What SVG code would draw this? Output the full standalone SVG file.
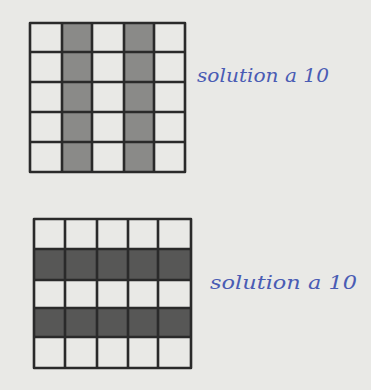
<svg xmlns="http://www.w3.org/2000/svg" width="371" height="390" viewBox="0 0 371 390">
<style>
.grid{fill:none;stroke:#2a2a2a;stroke-width:2.6;stroke-linejoin:round}
.label{font-family:"DejaVu Serif","Liberation Serif",serif;font-style:italic;font-size:19px;fill:#4a5cb4}
</style>
<rect x="0" y="0" width="371" height="390" fill="#e9e9e6"/>
<g id="grid-top">
<rect x="62" y="23" width="30" height="149" fill="#8a8a88"/>
<rect x="124" y="23" width="30" height="149" fill="#8a8a88"/>
<rect class="grid" x="30" y="23" width="155" height="149"/>
<path class="grid" d="M62 23V172M92 23V172M124 23V172M154 23V172M30 52H185M30 82H185M30 112H185M30 142H185"/>
</g>
<g id="grid-bottom">
<rect x="34" y="249" width="157" height="31" fill="#575756"/>
<rect x="34" y="308" width="157" height="29" fill="#575756"/>
<rect class="grid" x="34" y="219" width="157" height="149"/>
<path class="grid" d="M65 219V368M97 219V368M128 219V368M158 219V368M34 249H191M34 280H191M34 308H191M34 337H191"/>
</g>
<g id="label-top"><text class="label" x="197" y="82" textLength="132" lengthAdjust="spacingAndGlyphs">solution a 10</text></g>
<g id="label-bottom"><text class="label" x="210" y="289" textLength="147" lengthAdjust="spacingAndGlyphs">solution a 10</text></g>
<g id="connectors"/>
</svg>
